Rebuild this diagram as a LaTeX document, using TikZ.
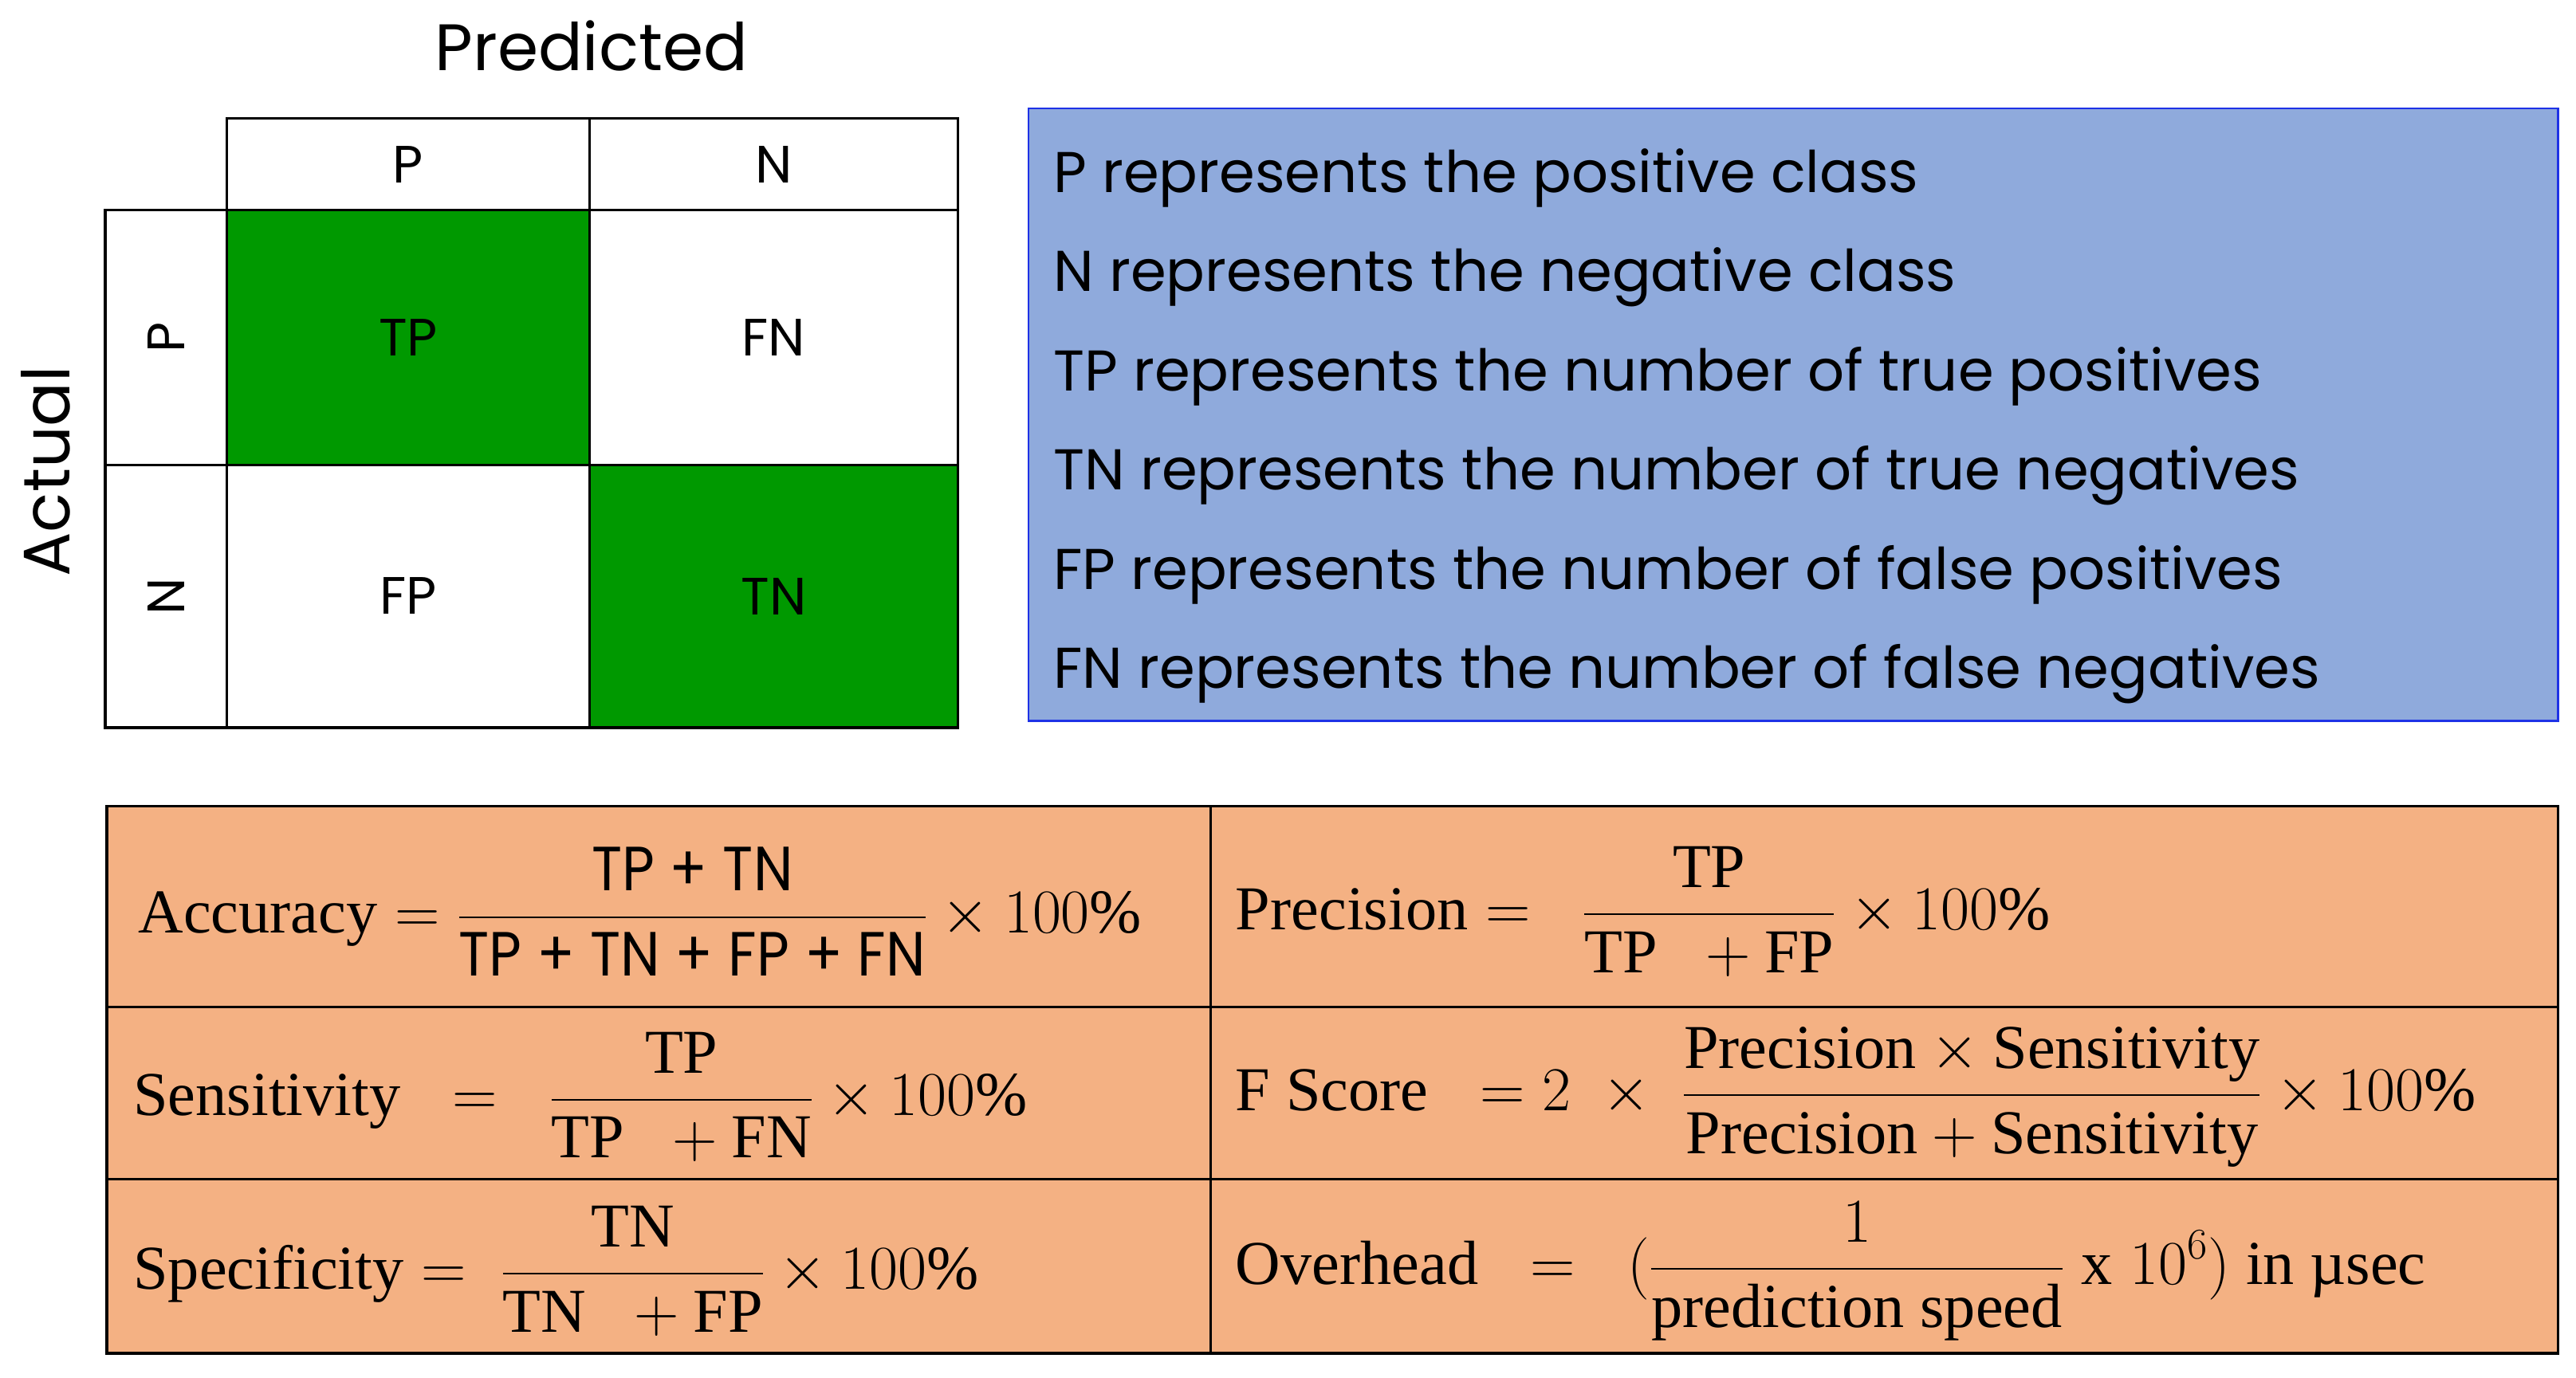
\RequirePackage{fix-cm}
\documentclass[tikz,border=0pt]{standalone}
\usepackage{amsmath}
\usepackage{fontspec}
\setmainfont{Liberation Serif}
\newfontfamily\goth{Poppins}
\newfontfamily\gothc{Poppins}[FakeStretch=0.9]
\definecolor{cmgreen}{RGB}{0,153,0}
\definecolor{boxblue}{RGB}{143,170,220}
\definecolor{boxedge}{RGB}{30,50,230}
\definecolor{taborange}{RGB}{244,177,131}
\begin{document}
\begin{tikzpicture}[x=1pt,y=-1pt,
  cellbox/.style={draw=black, line width=1.6pt, inner sep=0pt, font=\goth\fontsize{32}{36}\selectfont},
  headlbl/.style={font=\goth\fontsize{40}{46}\selectfont, inner sep=0pt},
  legline/.style={anchor=base west, inner sep=0pt, font=\goth\fontsize{35}{40}\selectfont},
  tabcell/.style={draw=black, line width=1.6pt, fill=taborange, inner sep=0pt},
  formula/.style={anchor=west, inner sep=0pt, font=\fontsize{38}{44}\selectfont}]
\useasboundingbox (0,0) rectangle (1568,839);
% header labels
\node[headlbl] (pred) at (360,28) {Predicted};
\node[headlbl, rotate=90] (act) at (28,287) {Actual};
% confusion matrix
\node[cellbox, minimum width=221pt, minimum height=56pt] (hP) at (248.5,100) {P};
\node[cellbox, minimum width=224pt, minimum height=56pt] (hN) at (471,100) {N};
\node[cellbox, minimum width=74pt, minimum height=155pt] (aPbox) at (101,205.5) {};
\node[rotate=90, font=\goth\fontsize{32}{36}\selectfont, inner sep=0pt] (aP) at (aPbox.center) {P};
\node[cellbox, minimum width=74pt, minimum height=160pt] (aNbox) at (101,363) {};
\node[rotate=90, font=\goth\fontsize{32}{36}\selectfont, inner sep=0pt] (aN) at (aNbox.center) {N};
\node[cellbox, fill=cmgreen, minimum width=221pt, minimum height=155pt] (TP) at (248.5,205.5) {TP};
\node[cellbox, minimum width=224pt, minimum height=155pt] (FN) at (471,205.5) {FN};
\node[cellbox, minimum width=221pt, minimum height=160pt] (FP) at (248.5,363) {FP};
\node[cellbox, fill=cmgreen, minimum width=224pt, minimum height=160pt] (TN) at (471,363) {TN};
% legend box
\node[draw=boxedge, fill=boxblue, line width=1.2pt, minimum width=931pt, minimum height=373pt, inner sep=0pt] (legend) at (1091.5,252.5) {};
\node[legline] (l1) at (641,117) {P represents the positive class};
\node[legline] (l2) at (641,177.5) {N represents the negative class};
\node[legline] (l3) at (641,238) {TP represents the number of true positives};
\node[legline] (l4) at (641,298) {TN represents the number of true negatives};
\node[legline] (l5) at (641,359) {FP represents the number of false positives};
\node[legline] (l6) at (641,419) {FN represents the number of false negatives};
% formula table
\node[tabcell, minimum width=672pt, minimum height=122pt] (c11) at (401,552) {};
\node[tabcell, minimum width=820pt, minimum height=122pt] (c12) at (1147,552) {};
\node[tabcell, minimum width=672pt, minimum height=105pt] (c21) at (401,665.5) {};
\node[tabcell, minimum width=820pt, minimum height=105pt] (c22) at (1147,665.5) {};
\node[tabcell, minimum width=672pt, minimum height=106pt] (c31) at (401,771) {};
\node[tabcell, minimum width=820pt, minimum height=106pt] (c32) at (1147,771) {};
\node[formula] (accf) at (84,555) {$\displaystyle \mathrm{Accuracy} = \frac{\text{\gothc TP + TN}}{\text{\gothc TP + TN + FP + FN}}\times 100\%$};
\node[formula] (senf) at (81,668) {$\displaystyle \mathrm{Sensitivity}\;\; = \;\;\frac{\mathrm{TP}}{\mathrm{TP}\;\;+\mathrm{FN}}\times 100\%$};
\node[formula] (spef) at (81,774) {$\displaystyle \mathrm{Specificity} = \;\frac{\mathrm{TN}}{\mathrm{TN}\;\;+\mathrm{FP}}\times 100\%$};
\node[formula] (pref) at (752,555) {$\displaystyle \mathrm{Precision} = \;\;\frac{\mathrm{TP}}{\mathrm{TP}\;\;+\mathrm{FP}}\times 100\%$};
\node[formula] (fsf) at (752,668) {$\displaystyle \mathrm{F\ Score}\;\; = 2\;\times\;\frac{\mathrm{Precision}\times\mathrm{Sensitivity}}{\mathrm{Precision}+\mathrm{Sensitivity}}\times 100\%$};
\node[formula] (ovf) at (752,774) {$\displaystyle \mathrm{Overhead}\;\; = \;\;(\frac{1}{\mathrm{prediction\ speed}}\;\mathrm{x}\;10^{6})\ \text{in µsec}$};
\end{tikzpicture}
\end{document}
